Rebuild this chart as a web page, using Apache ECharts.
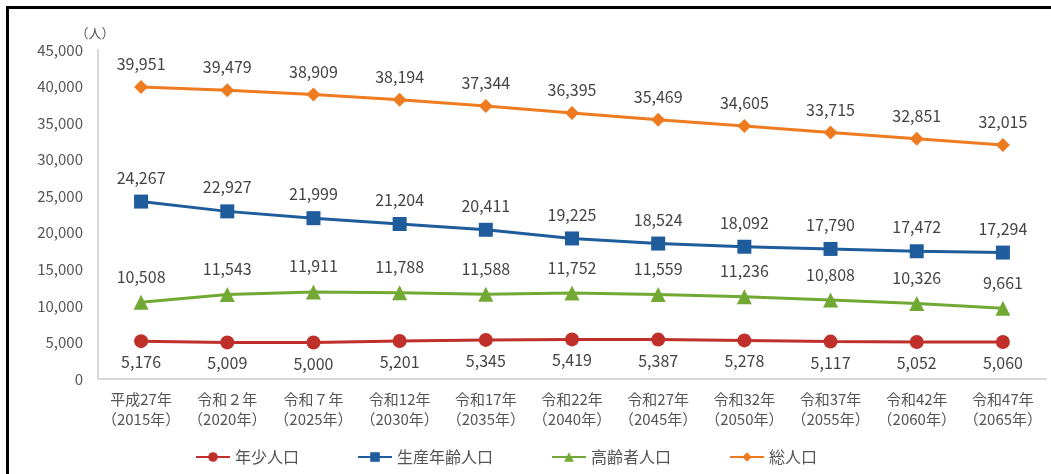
<!DOCTYPE html>
<html>
<head>
<meta charset="utf-8">
<script src="https://cdn.jsdelivr.net/npm/echarts@6/dist/echarts.min.js"></script>
<style>
  html, body { margin: 0; padding: 0; background: #fff; }
  #chart { width: 1051px; height: 474px; }
  /* 原図の黒い枠線（上と左だけ見えている） */
  .frame {
    position: absolute; left: 6px; top: 6px; right: 0; bottom: 0;
    border-top: 3px solid #000; border-left: 3px solid #000;
    pointer-events: none;
  }
</style>
</head>
<body>
<div id="chart"></div>
<div class="frame"></div>
<script>
// カテゴリ（年次）
const years = [
  '平成27年\n（2015年）', '令和２年\n（2020年）', '令和７年\n（2025年）',
  '令和12年\n（2030年）', '令和17年\n（2035年）', '令和22年\n（2040年）',
  '令和27年\n（2045年）', '令和32年\n（2050年）', '令和37年\n（2055年）',
  '令和42年\n（2060年）', '令和47年\n（2065年）'
]

// 各系列の値
const youth = [5176, 5009, 5000, 5201, 5345, 5419, 5387, 5278, 5117, 5052, 5060]
const working = [24267, 22927, 21999, 21204, 20411, 19225, 18524, 18092, 17790, 17472, 17294]
const elderly = [10508, 11543, 11911, 11788, 11588, 11752, 11559, 11236, 10808, 10326, 9661]
const total = [39951, 39479, 38909, 38194, 37344, 36395, 35469, 34605, 33715, 32851, 32015]

const font = '"Noto Sans CJK JP", "Noto Sans", sans-serif'
const fmt = v => v.toLocaleString('en-US')

// 系列の共通設定
function makeSeries(name, data, color, symbol, pos, dist) {
  return {
    name: name,
    type: 'line',
    data: data,
    symbol: symbol,
    symbolSize: symbol === 'triangle' ? 15 : 14,
    lineStyle: { color: color, width: 3 },
    itemStyle: { color: color },
    label: {
      show: true,
      position: pos,
      distance: dist,
      fontFamily: font,
      fontSize: 16,
      color: '#444',
      formatter: p => fmt(p.value)
    }
  }
}

const chart = echarts.init(document.getElementById('chart'))
chart.setOption({
  animation: false,
  textStyle: { fontFamily: font },
  grid: { left: 98, right: 5, top: 50, bottom: 95 },
  legend: {
    bottom: 4,
    left: 190,
    itemGap: 58,
    itemWidth: 34,
    itemHeight: 12,
    textStyle: { fontFamily: font, fontSize: 16, color: '#555' },
    data: ['年少人口', '生産年齢人口', '高齢者人口', '総人口']
  },
  xAxis: {
    type: 'category',
    data: years,
    axisLine: { lineStyle: { color: '#d9d9d9', width: 2 } },
    axisTick: { show: false },
    axisLabel: {
      interval: 0,
      fontFamily: font, fontSize: 15, color: '#555', lineHeight: 20, margin: 10
    }
  },
  yAxis: {
    type: 'value',
    min: 0,
    max: 45000,
    interval: 5000,
    name: '（人）',
    nameGap: 10,
    nameTextStyle: { fontFamily: font, fontSize: 13, color: '#555', align: 'center', padding: [0, 0, 0, -6] },
    axisLine: { show: true, lineStyle: { color: '#d9d9d9', width: 2 } },
    axisTick: { show: false },
    splitLine: { show: false },
    axisLabel: {
      fontFamily: font, fontSize: 15, color: '#555', margin: 15,
      formatter: v => fmt(v)
    }
  },
  series: [
    makeSeries('年少人口', youth, '#c0302b', 'circle', 'bottom', 6),
    makeSeries('生産年齢人口', working, '#1f5c9c', 'rect', 'top', 9),
    makeSeries('高齢者人口', elderly, '#72a934', 'triangle', 'top', 10),
    makeSeries('総人口', total, '#ee7b1f', 'diamond', 'top', 8)
  ]
})
</script>
</body>
</html>
